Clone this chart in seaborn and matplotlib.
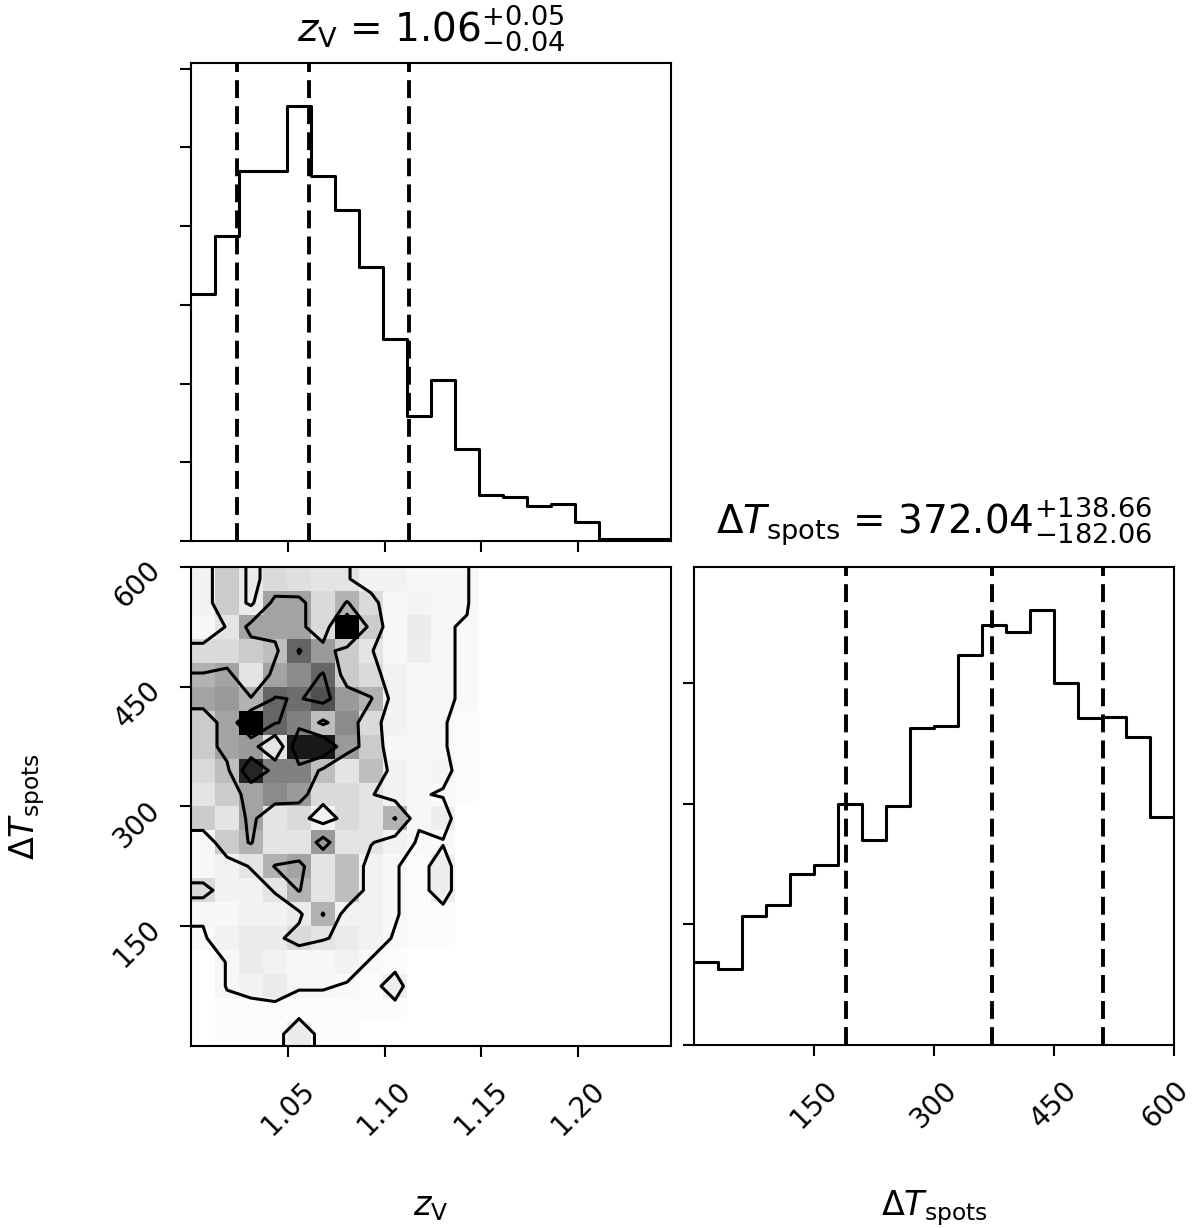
import numpy as np
import matplotlib
matplotlib.use("Agg")
import matplotlib.pyplot as plt
import matplotlib.transforms as mtransforms
from matplotlib.colors import LinearSegmentedColormap
from matplotlib.ticker import MaxNLocator, MultipleLocator
import seaborn as sns

# marginal of z_V (20 bins between 1.000 and 1.248)
zv_range = (1.0, 1.248)
zv_counts = [314, 388, 470, 470, 552, 464, 421, 348, 257, 159,
             205, 117, 58, 56, 44, 47, 24, 3, 2, 2]
zv_quant = [1.0235, 1.0610, 1.1125]

# marginal of Delta T_spots (20 bins between 0 and 600)
dt_range = (0.0, 600.0)
dt_counts = [69, 63, 107, 116, 142, 149, 200, 170, 198, 263,
             264, 323, 348, 342, 360, 300, 271, 272, 255, 189]
dt_quant = [189.98, 372.04, 510.70]

# joint histogram, one row per Delta T bin (top = 570-600), one column per z_V bin
joint_rows = [
    [9, 18, 11, 15, 14, 13, 13, 9, 9, 7, 7, 7, 0, 0, 0, 0, 0, 0, 0, 0],
    [9, 18, 11, 24, 24, 15, 22, 15, 7, 8, 7, 7, 0, 0, 0, 0, 0, 0, 0, 0],
    [7, 13, 24, 24, 24, 15, 40, 18, 7, 11, 7, 6, 0, 0, 0, 0, 0, 0, 0, 0],
    [15, 15, 18, 20, 31, 25, 18, 13, 7, 10, 7, 6, 0, 0, 0, 0, 0, 0, 0, 0],
    [22, 24, 13, 24, 27, 31, 18, 15, 9, 7, 7, 6, 0, 0, 0, 0, 0, 0, 0, 0],
    [24, 25, 22, 31, 30, 33, 25, 22, 9, 7, 7, 6, 0, 0, 0, 0, 0, 0, 0, 0],
    [18, 24, 40, 31, 28, 20, 27, 15, 9, 7, 7, 4, 0, 0, 0, 0, 0, 0, 0, 0],
    [18, 24, 25, 13, 38, 38, 25, 18, 7, 7, 7, 4, 0, 0, 0, 0, 0, 0, 0, 0],
    [15, 20, 37, 28, 28, 20, 13, 20, 9, 7, 8, 4, 0, 0, 0, 0, 0, 0, 0, 0],
    [13, 18, 24, 27, 25, 15, 15, 13, 9, 7, 6, 4, 0, 0, 0, 0, 0, 0, 0, 0],
    [18, 13, 24, 13, 15, 9, 15, 13, 22, 7, 10, 0, 0, 0, 0, 0, 0, 0, 0, 0],
    [7, 18, 22, 13, 13, 25, 13, 13, 9, 6, 6, 0, 0, 0, 0, 0, 0, 0, 0, 0],
    [7, 9, 13, 22, 24, 13, 20, 9, 7, 4, 10, 0, 0, 0, 0, 0, 0, 0, 0, 0],
    [15, 9, 9, 13, 22, 13, 20, 9, 7, 4, 10, 0, 0, 0, 0, 0, 0, 0, 0, 0],
    [7, 7, 9, 9, 11, 22, 9, 9, 7, 4, 4, 0, 0, 0, 0, 0, 0, 0, 0, 0],
    [6, 9, 11, 11, 15, 13, 11, 9, 6, 4, 4, 0, 0, 0, 0, 0, 0, 0, 0, 0],
    [0, 7, 11, 9, 7, 7, 9, 6, 4, 0, 0, 0, 0, 0, 0, 0, 0, 0, 0, 0],
    [0, 7, 9, 11, 7, 7, 6, 4, 10, 0, 0, 0, 0, 0, 0, 0, 0, 0, 0, 0],
    [0, 4, 4, 4, 4, 4, 4, 4, 4, 0, 0, 0, 0, 0, 0, 0, 0, 0, 0, 0],
    [0, 4, 4, 4, 11, 4, 4, 0, 0, 0, 0, 0, 0, 0, 0, 0, 0, 0, 0, 0],
]

zv_label = r"$z_{\rm V}$"
dt_label = r"$\Delta T_{\rm spots}$"
zv_title = r"$z_{\rm V}$ = $1.06_{-0.04}^{+0.05}$"
dt_title = r"$\Delta T_{\rm spots}$ = $372.04_{-182.06}^{+138.66}$"

sns.set_style("ticks")
plt.rcParams["font.family"] = ["DejaVu Sans"]
plt.rcParams["mathtext.fontset"] = "dejavusans"
plt.rcParams["axes.linewidth"] = 1.5
plt.rcParams["text.color"] = "k"
plt.rcParams["axes.labelcolor"] = "k"
for a in ("xtick", "ytick"):
    plt.rcParams[a + ".major.size"] = 8
    plt.rcParams[a + ".major.width"] = 1.5
    plt.rcParams[a + ".labelsize"] = 20
    plt.rcParams[a + ".color"] = "k"
    plt.rcParams[a + ".labelcolor"] = "k"
plt.rcParams["xtick.major.pad"] = 14
plt.rcParams["ytick.major.pad"] = 10

fig = plt.figure(figsize=(12, 12.28), dpi=100)
ax_top = fig.add_axes([0.1592, 0.5594, 0.4, 0.3893])
ax_2d = fig.add_axes([0.1592, 0.1482, 0.4, 0.3901])
ax_rt = fig.add_axes([0.5783, 0.1490, 0.4, 0.3893])

nbins = 20
hist_lw = 2.2
line_kw = dict(color="k", lw=2.8, ls=(0, (4.6, 2.1)))


def centers(rng):
    e = np.linspace(rng[0], rng[1], nbins + 1)
    return 0.5 * (e[1:] + e[:-1])


def diag_hist(ax, rng, counts, quant):
    sns.histplot(x=centers(rng), weights=np.asarray(counts, float),
                 bins=nbins, binrange=rng, element="step",
                 fill=False, color="k", linewidth=hist_lw, ax=ax)
    for q in quant:
        ax.axvline(q, **line_kw)
    ax.set_xlim(*rng)
    ax.set_ylim(0, 1.1 * max(counts))
    ax.set_ylabel("")
    ax.set_xlabel("")
    ax.yaxis.set_major_locator(MultipleLocator(100))
    ax.set_yticklabels([])
    ax.xaxis.set_major_locator(MaxNLocator(5, prune="lower"))


# top: z_V marginal
diag_hist(ax_top, zv_range, zv_counts, zv_quant)
ax_top.set_xticklabels([])
ax_top.set_title(zv_title, fontsize=28, pad=16)

# bottom right: Delta T marginal
diag_hist(ax_rt, dt_range, dt_counts, dt_quant)
for lab in ax_rt.get_xticklabels():
    lab.set_rotation(45)
# keep the last label ("600") inside the canvas
last = ax_rt.get_xticklabels()[-1]
last.set_transform(last.get_transform() +
                   mtransforms.ScaledTranslation(-6 / 72, 0, fig.dpi_scale_trans))
ax_rt.set_xlabel(dt_label, fontsize=24)
ax_rt.xaxis.set_label_coords(0.5, -0.3)
ax_rt.set_title(dt_title, fontsize=28, pad=24)

# joint panel
H = np.array(joint_rows[::-1], dtype=float).T     # H[i_zv, j_dt]
xc = centers(zv_range)
yc = centers(dt_range)
XX, YY = np.meshgrid(xc, yc, indexing="ij")

dens_cmap = LinearSegmentedColormap.from_list("dens", [(1, 1, 1, 0), (0, 0, 0, 1)])
sns.histplot(x=XX.ravel(), y=YY.ravel(), weights=H.ravel(),
             bins=nbins, binrange=(zv_range, dt_range), cmap=dens_cmap,
             vmin=0, vmax=H.max(), ax=ax_2d)

# contour levels at 0.5, 1, 1.5, 2 sigma
levels = 1.0 - np.exp(-0.5 * np.arange(0.5, 2.1, 0.5) ** 2)
Hflat = np.sort(H.ravel())[::-1]
cum = np.cumsum(Hflat)
cum /= cum[-1]
V = np.array([Hflat[cum <= v][-1] if np.any(cum <= v) else Hflat[0]
              for v in levels])
V.sort()
m = np.diff(V) == 0
while np.any(m):
    V[np.where(m)[0][0]] *= 1.0 - 1e-4
    m = np.diff(V) == 0
V = V - 0.5

nx, ny = H.shape
H2 = H.min() + np.zeros((nx + 4, ny + 4))
H2[2:-2, 2:-2] = H
H2[2:-2, 1] = H[:, 0]
H2[2:-2, -2] = H[:, -1]
H2[1, 2:-2] = H[0]
H2[-2, 2:-2] = H[-1]
H2[1, 1] = H[0, 0]
H2[1, -2] = H[0, -1]
H2[-2, 1] = H[-1, 0]
H2[-2, -2] = H[-1, -1]
dx = xc[1] - xc[0]
dy = yc[1] - yc[0]
X2 = np.concatenate([xc[0] + np.array([-2, -1]) * dx, xc, xc[-1] + np.array([1, 2]) * dx])
Y2 = np.concatenate([yc[0] + np.array([-2, -1]) * dy, yc, yc[-1] + np.array([1, 2]) * dy])
ax_2d.contour(X2, Y2, H2.T, V, colors="k", linewidths=2.2)

ax_2d.set_xlim(*zv_range)
ax_2d.set_ylim(*dt_range)
ax_2d.xaxis.set_major_locator(MaxNLocator(5, prune="lower"))
ax_2d.yaxis.set_major_locator(MaxNLocator(5, prune="lower"))
for lab in ax_2d.get_xticklabels() + ax_2d.get_yticklabels():
    lab.set_rotation(45)
ax_2d.set_xlabel(zv_label, fontsize=24)
ax_2d.set_ylabel(dt_label, fontsize=24)
ax_2d.xaxis.set_label_coords(0.5, -0.3)
ax_2d.yaxis.set_label_coords(-0.3, 0.5)

for ax in (ax_top, ax_2d, ax_rt):
    for s in ax.spines.values():
        s.set_visible(True)
        s.set_color("k")

fig.savefig("out.png", dpi=100)
